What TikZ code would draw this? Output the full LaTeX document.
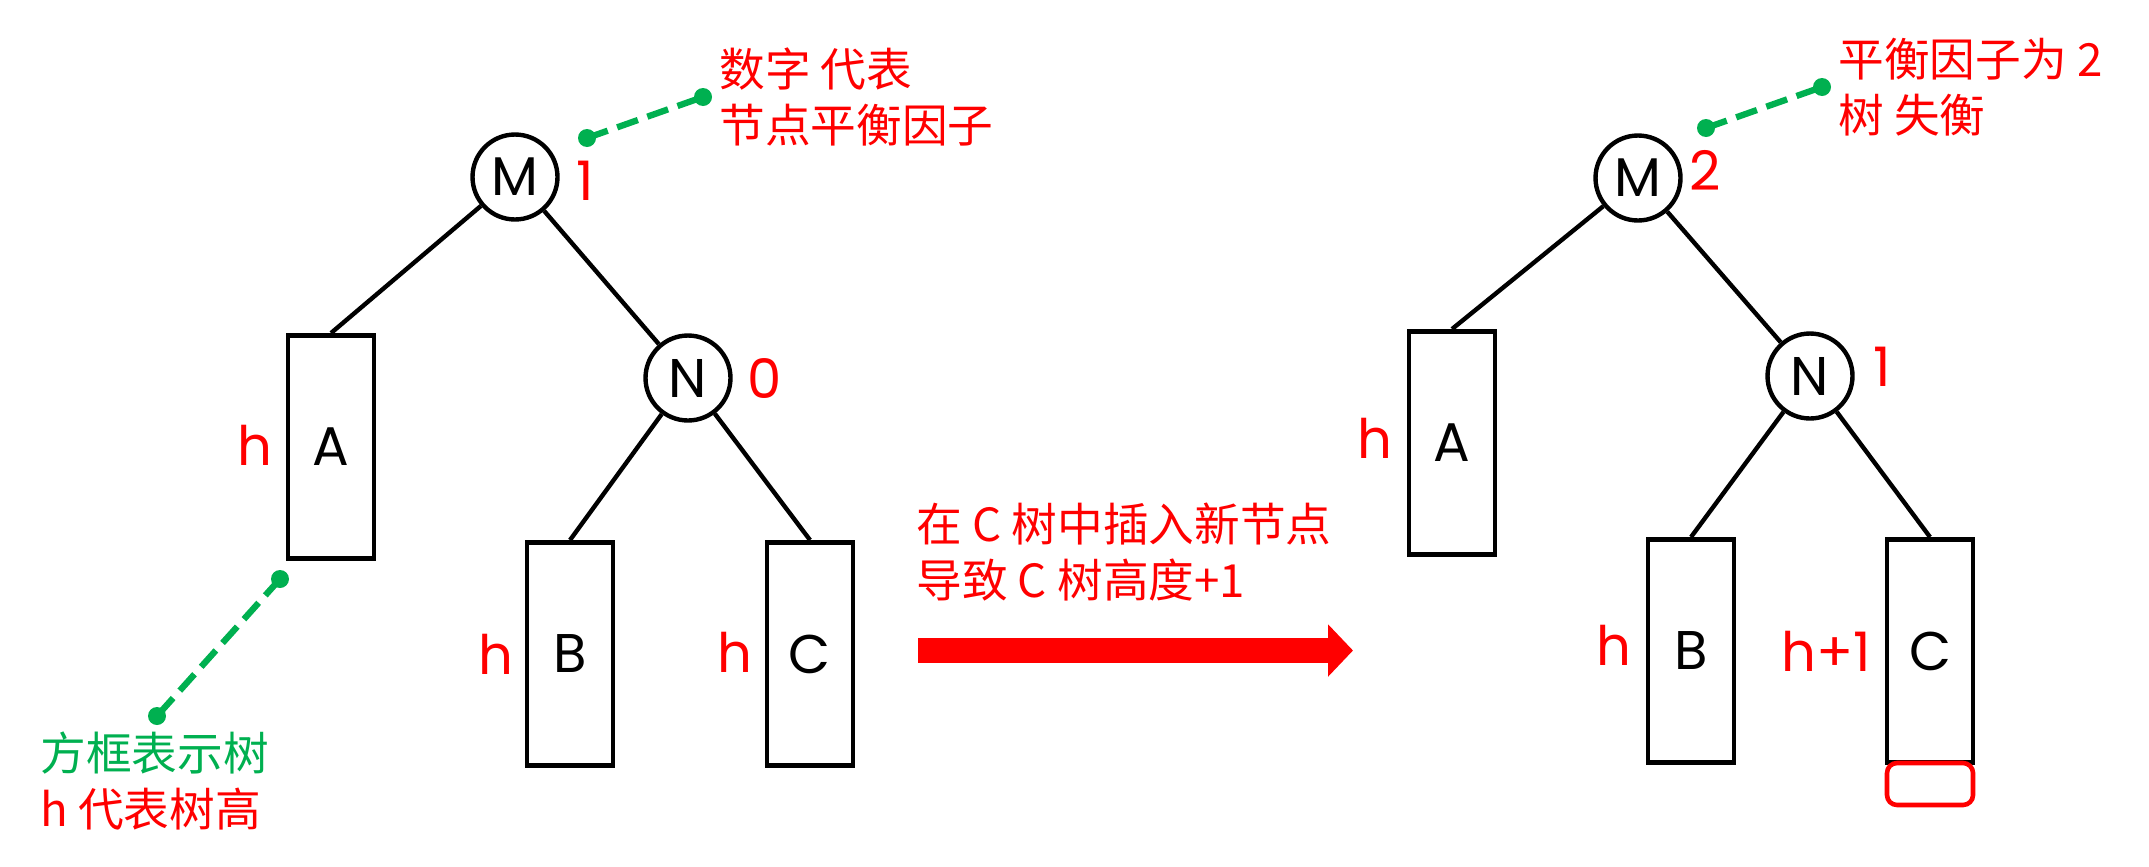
\documentclass[tikz,border=0pt]{standalone}
\usepackage{fontspec}
\setmainfont{Noto Sans CJK SC}
\newfontfamily\latinf{Poppins}
\usetikzlibrary{arrows.meta}
\definecolor{myred}{RGB}{255,0,0}
\definecolor{mygreen}{RGB}{0,176,80}
\begin{document}
\begin{tikzpicture}[x=0.02cm,y=-0.02cm,
  every node/.style={inner sep=0pt},
  tnode/.style={circle,draw,line width=2.5pt,minimum size=1.7cm,font=\latinf\fontsize{31}{31}\selectfont},
  tbox/.style={rectangle,draw,line width=2.8pt,minimum width=1.72cm,minimum height=4.46cm,font=\latinf\fontsize{31}{31}\selectfont},
  edgeline/.style={line width=2.5pt},
  lbl/.style={text=myred,font=\latinf\fontsize{31}{31}\selectfont},
  note/.style={align=left,anchor=west,font=\fontsize{26}{32}\selectfont},
  lead/.style={draw=mygreen,line width=3.6pt,dash pattern=on 0.44cm off 0.2cm},
  gdot/.style={fill=mygreen},
  bigarrow/.style={draw=myred,line width=0.5cm,-{Triangle[length=0.5cm,width=1.02cm]}}
]
\useasboundingbox (0,0) rectangle (2149,866);

% ---------- left tree ----------
\node[tnode] (M1) at (515,177) {M};
\node[tnode] (N1) at (688,378) {N};
\node[tbox] (A1) at (331,447) {A};
\node[tbox] (B1) at (570,654) {B};
\node[tbox] (C1) at (810,654) {C};
\draw[edgeline] (M1) -- (A1.north);
\draw[edgeline] (M1) -- (N1);
\draw[edgeline] (N1) -- (B1.north);
\draw[edgeline] (N1) -- (C1.north);

\node[lbl] (bf1) at (585,181) {1};
\node[lbl] (bf2) at (765,379) {0};
\node[lbl] (hA1) at (255,445) {h};
\node[lbl] (hB1) at (496,654) {h};
\node[lbl] (hC1) at (735,652) {h};

\coordinate (g1a) at (587,138);
\coordinate (g1b) at (703,97);
\draw[lead] (g1a) -- (g1b);
\fill[gdot] (g1a) circle (0.18cm);
\fill[gdot] (g1b) circle (0.18cm);
\node[note,text=myred] (t1) at (719,97) {数字 代表\\节点平衡因子};

\coordinate (g2a) at (280,579);
\coordinate (g2b) at (157,716);
\draw[lead] (g2a) -- (g2b);
\fill[gdot] (g2a) circle (0.18cm);
\fill[gdot] (g2b) circle (0.18cm);
\node[note] (t2) at (40,781) {\textcolor{mygreen}{方框表示树}\\\textcolor{myred}{h 代表树高}};

% ---------- arrow ----------
\node[note,text=myred] (t3) at (916,552) {在 C 树中插入新节点\\导致 C 树高度+1};
\coordinate (arA) at (918,650.5);
\coordinate (arB) at (1353,650.5);
\draw[bigarrow] (arA) -- (arB);

% ---------- right tree ----------
\node[tnode] (M2) at (1638,178) {M};
\node[tnode] (N2) at (1810,376) {N};
\node[tbox] (A2) at (1452,443) {A};
\node[tbox] (B2) at (1691,651) {B};
\node[tbox] (C2) at (1930,651) {C};
\draw[edgeline] (M2) -- (A2.north);
\draw[edgeline] (M2) -- (N2);
\draw[edgeline] (N2) -- (B2.north);
\draw[edgeline] (N2) -- (C2.north);
\coordinate (rrA) at (1887,763);
\coordinate (rrB) at (1973,805);
\draw[draw=myred,line width=2.6pt,rounded corners=0.2cm] (rrA) rectangle (rrB);

\node[lbl] (bf3) at (1705,170) {2};
\node[lbl] (bf4) at (1882,367) {1};
\node[lbl] (hA2) at (1375,438) {h};
\node[lbl] (hB2) at (1614,645) {h};
\node[lbl] (hC2) at (1826,651) {h+1};

\coordinate (g3a) at (1706,128);
\coordinate (g3b) at (1822,87);
\draw[lead] (g3a) -- (g3b);
\fill[gdot] (g3a) circle (0.18cm);
\fill[gdot] (g3b) circle (0.18cm);
\node[note,text=myred] (t4) at (1838,87) {平衡因子为 2\\树 失衡};
\end{tikzpicture}
\end{document}
